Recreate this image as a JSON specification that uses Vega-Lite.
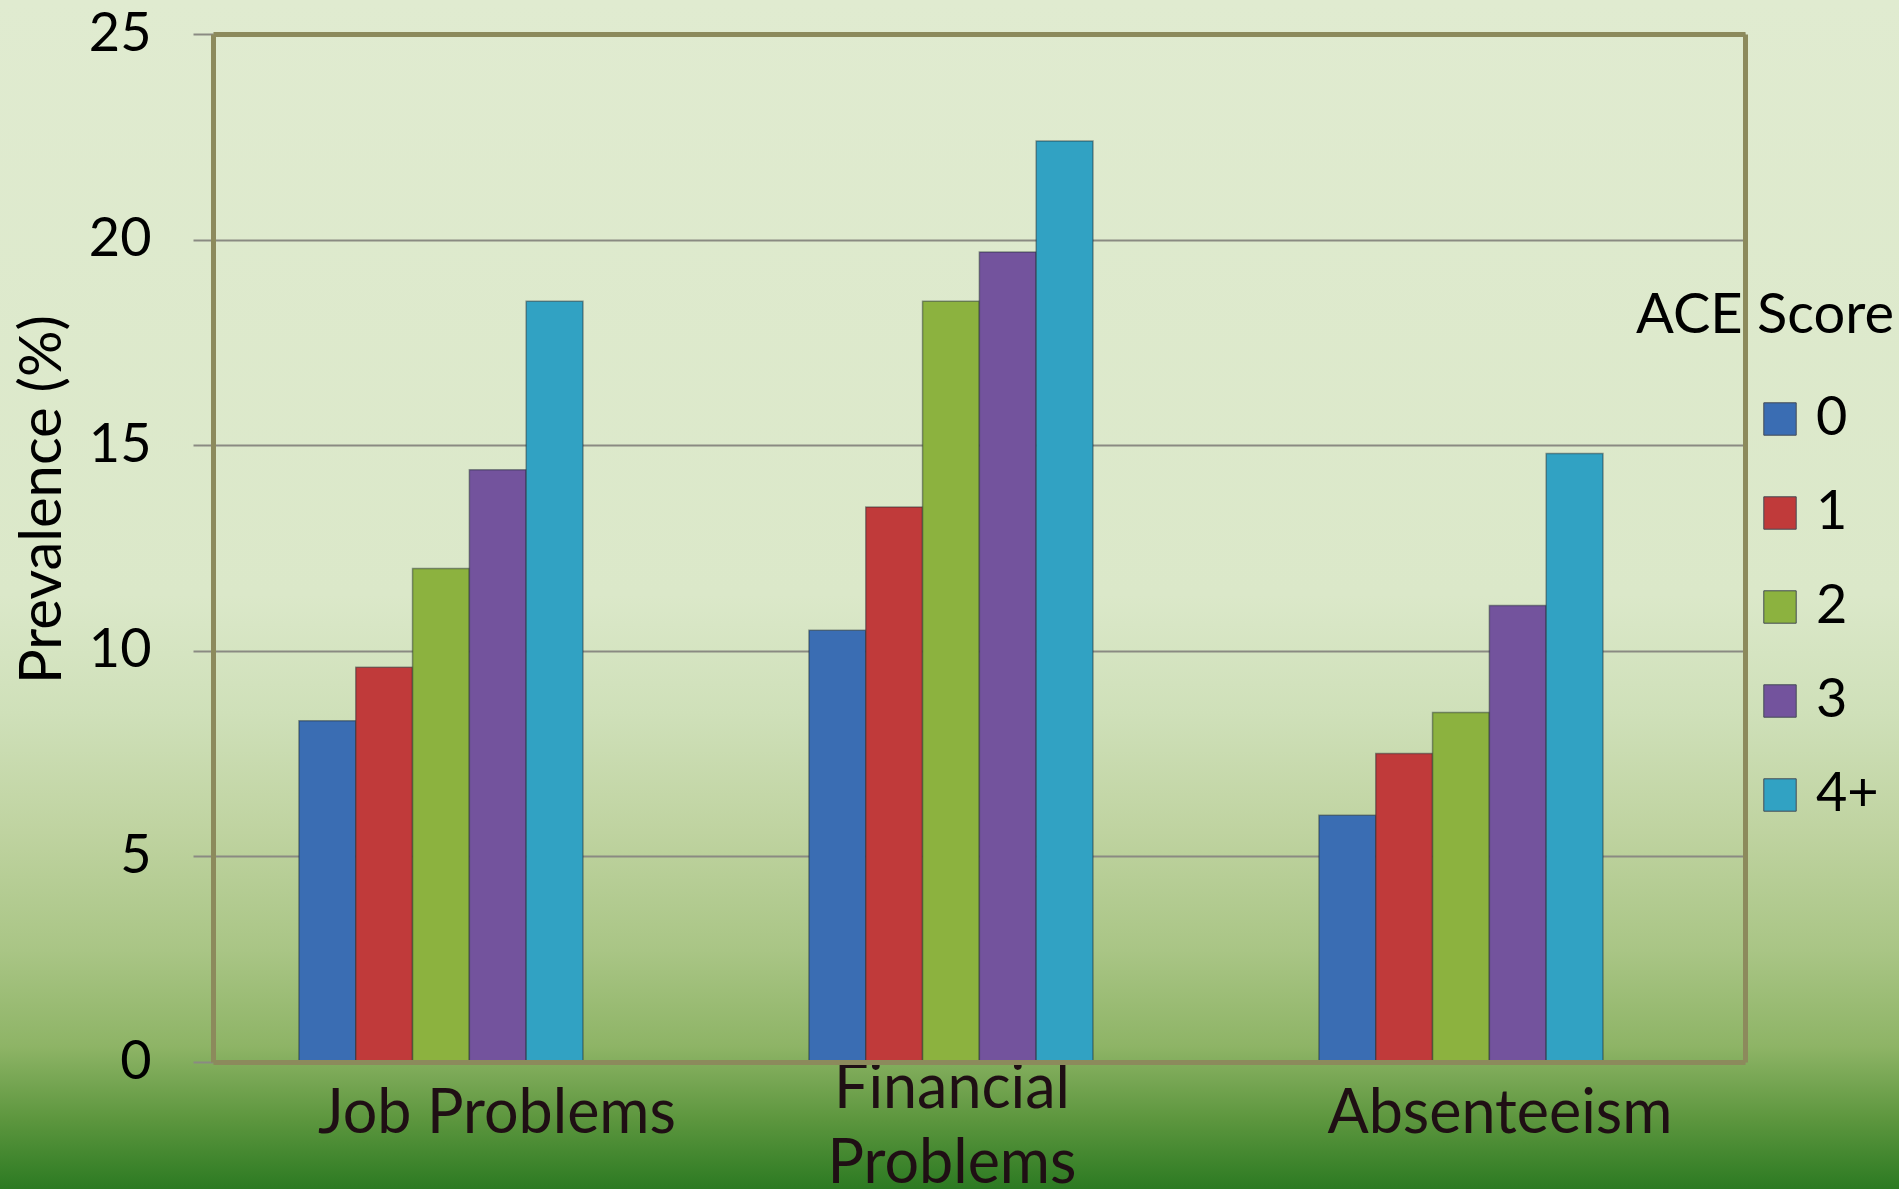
{
  "$schema": "https://vega.github.io/schema/vega-lite/v6.json",
  "width": 1899,
  "height": 1189,
  "autosize": {"type": "none"},
  "padding": 0,
  "background": "#dfeacf",
  "view": {
    "stroke": null,
    "fill": {
      "gradient": "linear", "x1": 0, "y1": 0, "x2": 0, "y2": 1,
      "stops": [
        {"offset": 0, "color": "#e0ebd0"},
        {"offset": 0.5, "color": "#dbe8c9"},
        {"offset": 0.6, "color": "#cfe0b9"},
        {"offset": 0.7, "color": "#bfd3a0"},
        {"offset": 0.8, "color": "#a9c585"},
        {"offset": 0.88, "color": "#8eb466"},
        {"offset": 0.94, "color": "#5e973f"},
        {"offset": 1, "color": "#2c7a22"}
      ]
    }
  },
  "config": {"font": "Lato"},
  "data": {
    "values": [
      {"category": "Job Problems", "score": "0", "prevalence": 8.3},
      {"category": "Job Problems", "score": "1", "prevalence": 9.6},
      {"category": "Job Problems", "score": "2", "prevalence": 12.0},
      {"category": "Job Problems", "score": "3", "prevalence": 14.4},
      {"category": "Job Problems", "score": "4+", "prevalence": 18.5},
      {"category": "Financial Problems", "score": "0", "prevalence": 10.5},
      {"category": "Financial Problems", "score": "1", "prevalence": 13.5},
      {"category": "Financial Problems", "score": "2", "prevalence": 18.5},
      {"category": "Financial Problems", "score": "3", "prevalence": 19.7},
      {"category": "Financial Problems", "score": "4+", "prevalence": 22.4},
      {"category": "Absenteeism", "score": "0", "prevalence": 6.0},
      {"category": "Absenteeism", "score": "1", "prevalence": 7.5},
      {"category": "Absenteeism", "score": "2", "prevalence": 8.5},
      {"category": "Absenteeism", "score": "3", "prevalence": 11.1},
      {"category": "Absenteeism", "score": "4+", "prevalence": 14.8}
    ]
  },
  "layer": [
    {
      "mark": {"type": "bar", "stroke": "#1e2a30", "strokeOpacity": 0.45, "strokeWidth": 1.5},
      "encoding": {
        "x": {
          "field": "category", "type": "nominal",
          "sort": ["Job Problems", "Financial Problems", "Absenteeism"],
          "scale": {"range": [213, 1745], "paddingInner": 0.4431, "paddingOuter": 0.2235, "align": 0.377},
          "axis": {
            "orient": "bottom", "offset": -127, "title": null, "ticks": false,
            "domainColor": "#8c8a5c", "domainWidth": 5,
            "labelFont": "Lato", "labelFontSize": 61, "labelColor": "#1f0f14",
            "labelAngle": 0, "labelBaseline": "middle", "labelAlign": "center",
            "labelPadding": {"condition": {"test": "datum.value == 'Financial Problems'", "value": 27}, "value": 52},
            "labelLineHeight": 75, "labelLimit": 0, "labelOverlap": false,
            "labelExpr": "datum.value == 'Financial Problems' ? ['Financial', 'Problems'] : datum.value",
            "labelOffset": {"condition": [{"test": "datum.value == 'Job Problems'", "value": 56}, {"test": "datum.value == 'Absenteeism'", "value": 39}], "value": 1},
            "grid": false, "zindex": 1
          }
        },
        "xOffset": {
          "field": "score", "type": "nominal",
          "sort": ["0", "1", "2", "3", "4+"],
          "scale": {"paddingInner": 0, "paddingOuter": 0}
        },
        "y": {
          "field": "prevalence", "type": "quantitative",
          "scale": {"domain": [0, 25], "range": [1062, 34], "nice": false, "zero": true},
          "axis": {
            "orient": "left", "offset": -213, "values": [0, 5, 10, 15, 20, 25],
            "labelFont": "Lato", "labelFontSize": 54, "labelColor": "#000000", "labelPadding": 42,
            "tickSize": 20, "tickColor": "#8a8a82", "tickWidth": 2,
            "domainColor": "#8c8a5c", "domainWidth": 5,
            "grid": true, "gridColor": "#8a8a82", "gridWidth": 2,
            "title": "Prevalence (%)", "titleFont": "Lato", "titleFontSize": 58, "titleFontWeight": "normal",
            "titleColor": "#000000", "titleX": -153, "titleY": 499, "titleAngle": -90,
            "titleBaseline": "alphabetic", "titleAlign": "center"
          }
        },
        "color": {
          "field": "score", "type": "nominal",
          "scale": {"domain": ["0", "1", "2", "3", "4+"], "range": ["#3a6db3", "#c03a3a", "#8cb23f", "#73539d", "#31a2c3"]},
          "legend": {
            "orient": "none", "legendX": 1636, "legendY": 289,
            "title": "ACE Score", "titleFont": "Lato", "titleFontSize": 56, "titleFontWeight": "normal",
            "titleColor": "#000000", "titlePadding": 47, "titleAnchor": "start", "titleLimit": 0,
            "symbolType": "square", "symbolSize": 1050, "symbolStrokeWidth": 1, "symbolStrokeColor": "#444a55",
            "symbolOpacity": 1, "symbolOffset": 117, "labelOffset": 9,
            "labelFont": "Lato", "labelFontSize": 54, "labelColor": "#000000", "labelLimit": 0,
            "rowPadding": 40, "padding": 0
          }
        }
      }
    },
    {
      "mark": {"type": "bar", "opacity": 0},
      "encoding": {
        "x": {
          "field": "category", "type": "nominal",
          "sort": ["Job Problems", "Financial Problems", "Absenteeism"],
          "axis": {"orient": "top", "offset": -34, "labels": false, "ticks": false, "grid": false, "title": null, "domainColor": "#8c8a5c", "domainWidth": 5, "zindex": 1}
        },
        "xOffset": {"field": "score", "type": "nominal", "sort": ["0", "1", "2", "3", "4+"]},
        "y": {
          "field": "prevalence", "type": "quantitative",
          "axis": {"orient": "right", "offset": -154, "labels": false, "ticks": false, "grid": false, "title": null, "domainColor": "#8c8a5c", "domainWidth": 5, "zindex": 1}
        }
      }
    }
  ],
  "resolve": {"axis": {"x": "independent", "y": "independent"}}
}
